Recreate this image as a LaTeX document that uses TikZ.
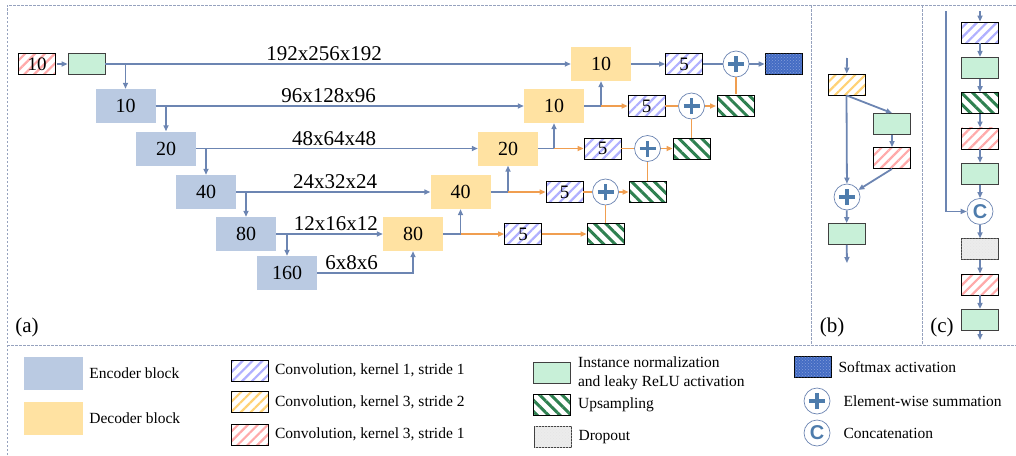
\documentclass[tikz,border=0pt]{standalone}
\usepackage{amsmath}
\usepackage{fontspec}
\setmainfont{Liberation Serif}
\setsansfont{Liberation Sans}
\usepackage{tikz}
\usetikzlibrary{shapes,arrows.meta,patterns,patterns.meta,positioning}

\definecolor{encblue}{RGB}{186,202,226}
\definecolor{decyel}{RGB}{255,226,162}
\definecolor{linblue}{RGB}{108,133,178}
\definecolor{linorng}{RGB}{240,158,80}
\definecolor{hpurp}{RGB}{176,176,255}
\definecolor{hyel}{RGB}{255,210,118}
\definecolor{hred}{RGB}{255,170,170}
\definecolor{inmint}{RGB}{200,240,216}
\definecolor{upgreen}{RGB}{46,128,80}
\definecolor{smblue}{RGB}{68,108,196}
\definecolor{dropgray}{RGB}{236,236,236}
\definecolor{framec}{RGB}{150,162,190}
\definecolor{opblue}{RGB}{78,124,172}

\begin{document}
\begin{tikzpicture}[x=1pt, y=-1pt, >={Triangle[length=6pt,width=5pt]}]
\tikzstyle{blk}=[minimum width=60pt, minimum height=34pt, inner sep=0pt, font=\fontsize{20}{22}\selectfont]
\tikzstyle{enc}=[blk, fill=encblue]
\tikzstyle{dec}=[blk, fill=decyel]
\tikzstyle{sbox}=[draw=black, line width=0.8pt, minimum width=37pt, minimum height=21pt, inner sep=0pt, font=\fontsize{19}{20}\selectfont]
\tikzstyle{convP}=[sbox, pattern={Lines[angle=45,distance=7pt,line width=2.2pt]}, pattern color=hpurp]
\tikzstyle{convY}=[sbox, pattern={Lines[angle=45,distance=7pt,line width=2.2pt]}, pattern color=hyel]
\tikzstyle{convR}=[sbox, pattern={Lines[angle=45,distance=7pt,line width=2.2pt]}, pattern color=hred]
\tikzstyle{upsm}=[sbox, pattern={Lines[angle=-45,distance=8pt,line width=3pt]}, pattern color=upgreen]
\tikzstyle{inorm}=[sbox, draw=black!75, fill=inmint]
\tikzstyle{smax}=[sbox, fill=smblue, postaction={pattern=crosshatch dots, pattern color=white!35!smblue}]
\tikzstyle{drop}=[sbox, draw=black!75, fill=dropgray, postaction={pattern=crosshatch dots, pattern color=black!10}]
\tikzstyle{sumop}=[circle, draw=linblue, line width=0.7pt, fill=white, minimum size=26pt, inner sep=0pt,
  path picture={\draw[opblue, line width=3.2pt]
    ([xshift=-8pt]path picture bounding box.center) -- ([xshift=8pt]path picture bounding box.center)
    ([yshift=-8pt]path picture bounding box.center) -- ([yshift=8pt]path picture bounding box.center);}]
\tikzstyle{catop}=[circle, draw=linblue, line width=0.7pt, fill=white, minimum size=26pt, inner sep=0pt,
  text=opblue, font=\fontsize{20}{20}\sffamily\bfseries]
\tikzstyle{bl}=[draw=linblue, line width=1.8pt]
\tikzstyle{og}=[draw=linorng, line width=1.8pt]
\tikzstyle{bla}=[bl, ->]
\tikzstyle{oga}=[og, ->]
\tikzstyle{lbl}=[font=\fontsize{21}{22}\selectfont, inner sep=2pt]
\tikzstyle{lt}=[font=\fontsize{15.5}{19}\selectfont, inner sep=2pt, align=left]
\tikzstyle{frm}=[draw=framec, line width=1pt, dash pattern=on 2.5pt off 1.5pt]
\useasboundingbox (0,0) rectangle (1016,455);

\draw[frm] (7,455) -- (7,5) -- (1016,5);
\draw[frm] (7,345) -- (1016,345);
\draw[frm] (811,5) -- (811,345);
\draw[frm] (922,5) -- (922,345);

\node[convR]  (inp) at (37,64)      {10};
\node[inorm]  (inn) at (86.5,64)    {};
\node[enc]    (e1)  at (125.5,106)  {10};
\node[enc]    (e2)  at (166,148.5)  {20};
\node[enc]    (e3)  at (206,192)    {40};
\node[enc]    (e4)  at (246,234)    {80};
\node[enc]    (e5)  at (287,273)    {160};
\node[dec]    (d1)  at (601,64)     {10};
\node[dec]    (d2)  at (554,106)    {10};
\node[dec]    (d3)  at (508,148.5)  {20};
\node[dec]    (d4)  at (460.5,192)  {40};
\node[dec]    (d5)  at (413,234)    {80};

\node[convP]  (c1)  at (684,64)     {5};
\node[convP]  (c2)  at (646.5,106)  {5};
\node[convP]  (c3)  at (602.5,148.5){5};
\node[convP]  (c4)  at (564.5,192)  {5};
\node[convP]  (c5)  at (523,234)    {5};
\node[sumop]  (p1)  at (736,64)     {};
\node[sumop]  (p2)  at (691.5,106)  {};
\node[sumop]  (p3)  at (647.5,148.5){};
\node[sumop]  (p4)  at (605.5,192)  {};
\node[upsm]   (u2)  at (736,106)    {};
\node[upsm]   (u3)  at (691.5,148.5){};
\node[upsm]   (u4)  at (647.5,192)  {};
\node[upsm]   (u5)  at (605.5,234)  {};
\node[smax]   (sm)  at (783.5,64)   {};
\node[lbl]    (la)  at (27,327)     {(a)};

\path
(inp) edge[bla] (inn)
(inn) edge[bla] node[lbl,above,pos=0.47]{192x256x192} (d1)
(e1)  edge[bla] node[lbl,above,pos=0.47]{96x128x96}   (d2)
(e2)  edge[bla] node[lbl,above,pos=0.49]{48x64x48}    (d3)
(e3)  edge[bla] node[lbl,above,pos=0.51]{24x32x24}    (d4)
(e4)  edge[bla] node[lbl,above,pos=0.56]{12x16x12}    (d5);
\draw[bla] (e5.east) -| node[lbl,above,pos=0.18]{6x8x6} (d5.south);

\draw[bla] (inn.east) -| (e1.north);
\draw[bla] (e1.east) -| (e2.north);
\draw[bla] (e2.east) -| (e3.north);
\draw[bla] (e3.east) -| (e4.north);
\draw[bla] (e4.east) -| (e5.north);

\draw[bla] (d5.east) -| (d4.south);
\draw[bla] (d4.east) -| (d3.south);
\draw[bla] (d3.east) -| (d2.south);
\draw[bla] (d2.east) -| (d1.south);
\coordinate (j5) at (d5.east -| d4.south);
\coordinate (j4) at (d4.east -| d3.south);
\coordinate (j3) at (d3.east -| d2.south);
\coordinate (j2) at (d2.east -| d1.south);

\path
(j5) edge[oga] (c5)
(j4) edge[oga] (c4)
(j3) edge[oga] (c3)
(j2) edge[oga] (c2)
(c5) edge[oga] (u5)
(p4) edge[oga] (u4)
(p3) edge[oga] (u3)
(p2) edge[oga] (u2)
(c4) edge[og] (p4)
(c3) edge[og] (p3)
(c2) edge[og] (p2)
(u5) edge[og] (p4)
(u4) edge[og] (p3)
(u3) edge[og] (p2)
(u2) edge[og] (p1)
(d1) edge[bla] (c1)
(c1) edge[bl] (p1)
(p1) edge[bla] (sm);

\coordinate (bin) at (847,58);
\node[convY]  (by)  at (846.5,84.5) {};
\node[inorm]  (bg1) at (892,124)    {};
\node[convR]  (br)  at (892,158)    {};
\node[sumop]  (bp)  at (847,197)    {};
\node[inorm]  (bg2) at (846.5,234)  {};
\coordinate (bout) at (847,263);
\node[lbl]    (lb)  at (832,327)    {(b)};

\path
(bin) edge[bla] (by)
(by.south) edge[bla] (bp)
(by.south) edge[bla] (bg1.north)
(bg1) edge[bla] (br)
(br.south) edge[bla] (bp)
(bp) edge[bla] (bg2)
(bg2) edge[bla] (bout);

\coordinate (cin) at (980,11);
\coordinate (skp) at (946,11);
\node[convP]  (q1) at (980,32.5) {};
\node[inorm, below=13.5pt of q1] (q2) {};
\node[upsm,  below=13.5pt of q2] (q3) {};
\node[convR, below=13.5pt of q3] (q4) {};
\node[inorm, below=13.5pt of q4] (q5) {};
\node[catop, below=13.5pt of q5] (cat) {C};
\node[drop,  below=13.5pt of cat] (q6) {};
\node[convR, below=13.5pt of q6] (q7) {};
\node[inorm, below=13.5pt of q7] (q8) {};
\coordinate (cout) at (980,340);
\node[lbl]    (lc) at (942,327) {(c)};

\path
(cin) edge[bla] (q1)
(q1) edge[bla] (q2)
(q2) edge[bla] (q3)
(q3) edge[bla] (q4)
(q4) edge[bla] (q5)
(q5) edge[bla] (cat)
(cat) edge[bla] (q6)
(q6) edge[bla] (q7)
(q7) edge[bla] (q8)
(q8) edge[bla] (cout);
\draw[bla] (skp) |- (cat.west);

\node[enc, minimum width=59pt, minimum height=33pt] (lenc) at (53.5,373.5) {};
\node[lt, right=4pt of lenc] {Encoder block};
\node[dec, minimum width=59pt, minimum height=33pt] (ldec) at (53.5,418) {};
\node[lt, right=4pt of ldec] {Decoder block};
\node[convP] (lk1) at (250,370.5) {};
\node[lt, right=4pt of lk1] {Convolution, kernel 1, stride 1};
\node[convY] (lk3) at (250,402) {};
\node[lt, right=4pt of lk3] {Convolution, kernel 3, stride 2};
\node[convR] (lk3s) at (250,434.5) {};
\node[lt, right=4pt of lk3s] {Convolution, kernel 3, stride 1};
\node[inorm] (lin) at (552,373) {};
\node[lt, right=5pt of lin] {Instance normalization\\and leaky ReLU activation};
\node[upsm] (lup) at (552,405) {};
\node[lt, right=5pt of lup] {Upsampling};
\node[drop] (ldr) at (553,437) {};
\node[lt, right=4.5pt of ldr] {Dropout};
\node[smax] (lsm) at (812.5,367) {};
\node[lt, right=5pt of lsm] {Softmax activation};
\node[sumop] (lsum) at (817,401) {};
\node[lt, right=11pt of lsum] {Element-wise summation};
\node[catop] (lcat) at (817,433) {C};
\node[lt, right=11pt of lcat] {Concatenation};

\end{tikzpicture}
\end{document}
